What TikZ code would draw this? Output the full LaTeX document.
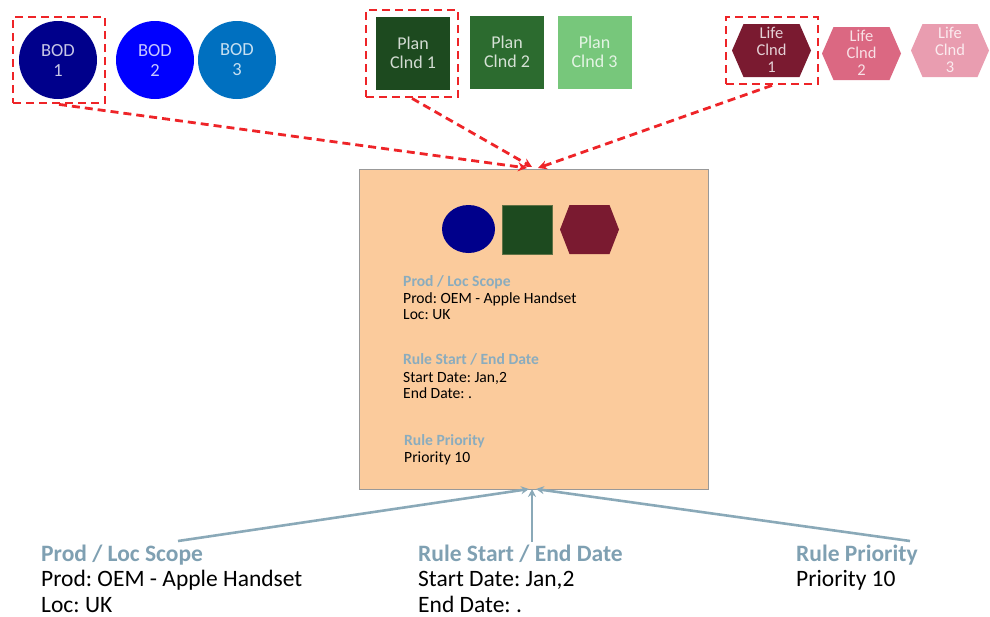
\documentclass[tikz,border=0pt]{standalone}
\usepackage{fontspec}
\setmainfont{Carlito}
\frenchspacing
\usetikzlibrary{arrows.meta,shapes.geometric}
\definecolor{bodA}{HTML}{00008B}
\definecolor{bodB}{HTML}{0000FF}
\definecolor{bodC}{HTML}{0070C0}
\definecolor{planA}{HTML}{1D4A1F}
\definecolor{planB}{HTML}{2C6B2F}
\definecolor{planC}{HTML}{77C77B}
\definecolor{lifeA}{HTML}{7A1A30}
\definecolor{lifeB}{HTML}{DB6882}
\definecolor{lifeC}{HTML}{E99DB0}
\definecolor{peach}{HTML}{FBCB9C}
\definecolor{selred}{HTML}{EE2428}
\definecolor{headblue}{HTML}{8AACBE}
\definecolor{headblueB}{HTML}{7FA0B2}
\definecolor{arrblue}{HTML}{8AA9B8}
\tikzset{
  bod/.style={circle, minimum size=78pt, inner sep=0pt, text=white!78!bodA, align=center, font=\fontsize{18.5}{20}\selectfont},
  plan/.style={rectangle, minimum width=74pt, minimum height=73pt, inner sep=0pt, align=center, font=\fontsize{18}{18.5}\selectfont},
  lifetxt/.style={inner sep=0pt, align=center, font=\fontsize{16.5}{17}\selectfont},
  selbox/.style={draw=selred, line width=2.8pt, dash pattern=on 8pt off 5pt, inner sep=0pt},
  selarrow/.style={draw=selred, line width=2.8pt, dash pattern=on 8pt off 5pt, -{Stealth[length=9pt,width=9pt]}},
  bluearrow/.style={draw=arrblue, line width=2.6pt, -{Stealth[length=8pt,width=8pt]}},
  smallhead/.style={anchor=base west, inner sep=0pt, text=headblue, font=\fontsize{15.6}{16}\selectfont\bfseries},
  smalltxt/.style={anchor=base west, inner sep=0pt, text=black, font=\fontsize{15.6}{16}\selectfont},
  bighead/.style={anchor=base west, inner sep=0pt, text=headblueB, font=\fontsize{23.5}{24}\selectfont\bfseries},
  bigtxt/.style={anchor=base west, inner sep=0pt, text=black, font=\fontsize{23.5}{24}\selectfont},
}
\begin{document}
\begin{tikzpicture}[x=1pt,y=-1pt]
\useasboundingbox (0,0) rectangle (990,616);
% BOD circles
\node[bod, fill=bodA] (bod1) at (58,60) {BOD\\1};
\node[bod, fill=bodB, text=white!78!bodB] (bod2) at (155,60) {BOD\\2};
\node[bod, fill=bodC, text=white!78!bodC] (bod3) at (237,60) {BOD\\3};
% Plan squares
\node[plan, fill=planA, text=white!80!planA] (plan1) at (413,53) {Plan\\Clnd 1};
\node[plan, fill=planB, text=white!80!planB] (plan2) at (507,52) {Plan\\Clnd 2};
\node[plan, fill=planC, text=white!80!planC] (plan3) at (594.5,52) {Plan\\Clnd 3};
% Life hexagons
\fill[lifeA, shift={(771.5,50.5)}] (-39.5,0) -- (-28,-26.5) -- (28,-26.5) -- (39.5,0) -- (28,26.5) -- (-28,26.5) -- cycle;
\node[lifetxt, text=white!80!lifeA] (life1) at (771.5,50) {Life\\Clnd\\1};
\fill[lifeB, shift={(861.5,53.5)}] (-39.5,0) -- (-28,-26.5) -- (28,-26.5) -- (39.5,0) -- (28,26.5) -- (-28,26.5) -- cycle;
\node[lifetxt, text=white!80!lifeB] (life2) at (861.5,53) {Life\\Clnd\\2};
\fill[lifeC, shift={(950,50.5)}] (-39,0) -- (-27.5,-26.5) -- (27.5,-26.5) -- (39,0) -- (27.5,26.5) -- (-27.5,26.5) -- cycle;
\node[lifetxt, text=white!80!lifeC] (life3) at (950,50) {Life\\Clnd\\3};
% selection boxes
\node[selbox, minimum width=92pt, minimum height=86pt] (bodsel) at (59,60) {};
\node[selbox, minimum width=92pt, minimum height=87pt] (plansel) at (412,53.5) {};
\node[selbox, minimum width=92pt, minimum height=67pt] (lifesel) at (772,50.5) {};
% main rule box
\node[draw=black!40, fill=peach, line width=0.8pt, minimum width=349pt, minimum height=320pt, inner sep=0pt, anchor=north west] (main) at (359,169) {};
\node[ellipse, fill=bodA, minimum width=53pt, minimum height=48pt, inner sep=0pt] (mcirc) at (468.5,229) {};
\node[fill=planA, draw=planA!70!peach, minimum width=50pt, minimum height=49pt, inner sep=0pt] (msq) at (527,229.5) {};
\fill[lifeA, shift={(589.5,229.5)}] (-29.5,0) -- (-20,-24.5) -- (20,-24.5) -- (29.5,0) -- (20,24.5) -- (-20,24.5) -- cycle;
\coordinate (mhex) at (589.5,229.5);
% texts inside box
\node[smallhead] (t1) at (403,286.5) {Prod / Loc Scope};
\node[smalltxt] (t2) at (403,303) {Prod: OEM - Apple Handset};
\node[smalltxt] (t3) at (403,319.5) {Loc: UK};
\node[smallhead] (t4) at (403,364.5) {Rule Start / End Date};
\node[smalltxt] (t5) at (403,382) {Start Date: Jan,2};
\node[smalltxt] (t6) at (403,398.5) {End Date: .};
\node[smallhead] (t7) at (404,445) {Rule Priority};
\node[smalltxt] (t8) at (404,462) {Priority 10};
% bottom texts
\node[bighead] (b1) at (41,561) {Prod / Loc Scope};
\node[bigtxt] (b2) at (41,586) {Prod: OEM - Apple Handset};
\node[bigtxt] (b3) at (41,612) {Loc: UK};
\node[bighead] (b4) at (418,561) {Rule Start / End Date};
\node[bigtxt] (b5) at (418,586) {Start Date: Jan,2};
\node[bigtxt] (b6) at (418,612) {End Date: .};
\node[bighead] (b7) at (796,561) {Rule Priority};
\node[bigtxt] (b8) at (796,586) {Priority 10};
% red dashed connectors
\coordinate (inA) at (527,168);
\coordinate (inB) at (532,167);
\coordinate (inC) at (538,168);
\draw[selarrow] (bodsel.south) -- (inA);
\draw[selarrow] (plansel.south) -- (inB);
\draw[selarrow] (lifesel.south) -- (inC);
% blue connectors
\coordinate (sA) at (178,541);
\coordinate (sB) at (532,542);
\coordinate (sC) at (910,541);
\coordinate (eA) at (529,489);
\coordinate (eB) at (532,489);
\coordinate (eC) at (536,489);
\draw[bluearrow] (sA) -- (eA);
\draw[bluearrow] (sB) -- (eB);
\draw[bluearrow] (sC) -- (eC);
\end{tikzpicture}
\end{document}
